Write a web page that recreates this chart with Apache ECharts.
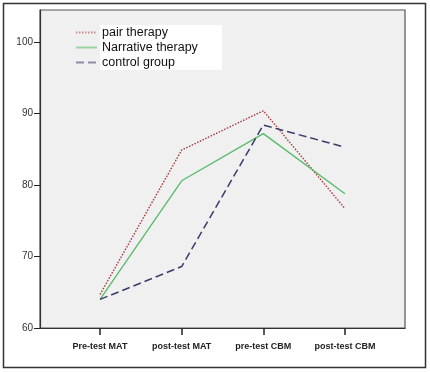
<!DOCTYPE html>
<html><head><meta charset="utf-8">
<script src="https://cdn.jsdelivr.net/npm/echarts@6/dist/echarts.min.js"></script>
<style>html,body{margin:0;padding:0;background:#fff}#c{width:430px;height:372px}</style>
</head><body><div id="c"></div>
<script>
const categories = ['Pre-test MAT', 'post-test MAT', 'pre-test CBM', 'post-test CBM'];
const pairTherapy = [64.7, 84.9, 90.4, 76.7];
const narrativeTherapy = [64.0, 80.6, 87.2, 78.8];
const controlGroup = [64.0, 68.6, 88.4, 85.3];
const yTicks = [60, 70, 80, 90, 100];

const toPts = arr => arr.map((v, i) => [i, v]);
const idx = categories.map((_, i) => i);
const chart = echarts.init(document.getElementById('c'));
chart.setOption({
  animation: false,
  backgroundColor: '#fff',
  textStyle: { fontFamily: 'Liberation Sans, Arial, sans-serif' },
  graphic: [
    { type: 'rect', shape: { x: 3.5, y: 3.5, width: 422, height: 364 }, style: { fill: 'none', stroke: '#333', lineWidth: 1.5 }, z: 0 },
    { type: 'rect', shape: { x: 100, y: 25, width: 122, height: 45 }, style: { fill: '#fff' }, z: 5 }
  ],
  grid: { left: 40, top: 10, right: 25, bottom: 44, show: true, backgroundColor: '#f0f0f0', borderColor: '#555', borderWidth: 1.2 },
  legend: {
    orient: 'vertical', left: 75, top: 26, padding: 0, itemWidth: 21, itemHeight: 8, itemGap: 2, z: 10,
    itemStyle: { color: 'rgba(0,0,0,0)', borderWidth: 0 },
    lineStyle: { opacity: 0.55 },
    textStyle: { fontSize: 12.5, color: '#111', fontFamily: 'Liberation Sans, Arial, sans-serif' },
    data: ['pair therapy', 'Narrative therapy', 'control group']
  },
  xAxis: {
    type: 'value', min: -0.735, max: 3.735,
    axisLine: { show: true, onZero: false, lineStyle: { color: '#333', width: 1.2 } },
    axisTick: { show: true, customValues: idx, length: 7, inside: false, lineStyle: { color: '#222', width: 1.5 } },
    axisLabel: { customValues: idx, formatter: v => categories[Math.round(v)], fontSize: 9, color: '#222', margin: 14, fontWeight: 'bold' },
    splitLine: { show: false }
  },
  yAxis: {
    type: 'value', min: 60, max: 104.5, interval: 10,
    axisLine: { show: true, onZero: false, lineStyle: { color: '#333', width: 1.2 } },
    axisTick: { show: true, length: 6, customValues: yTicks, lineStyle: { color: '#222' } },
    axisLabel: { fontSize: 10, color: '#333', margin: 7, customValues: yTicks },
    splitLine: { show: false }
  },
  series: [
    { name: 'pair therapy', type: 'line', data: toPts(pairTherapy), symbol: 'none', lineStyle: { color: '#a8383c', width: 1.4, type: [1.5, 1.5] }, itemStyle: { color: '#a8383c' } },
    { name: 'Narrative therapy', type: 'line', data: toPts(narrativeTherapy), symbol: 'none', lineStyle: { color: '#55bb66', width: 1.3 }, itemStyle: { color: '#55bb66' } },
    { name: 'control group', type: 'line', data: toPts(controlGroup), symbol: 'none', lineStyle: { color: '#3a3c6c', width: 1.5, type: [8, 4] }, itemStyle: { color: '#3a3c6c' } }
  ]
});
</script></body></html>
